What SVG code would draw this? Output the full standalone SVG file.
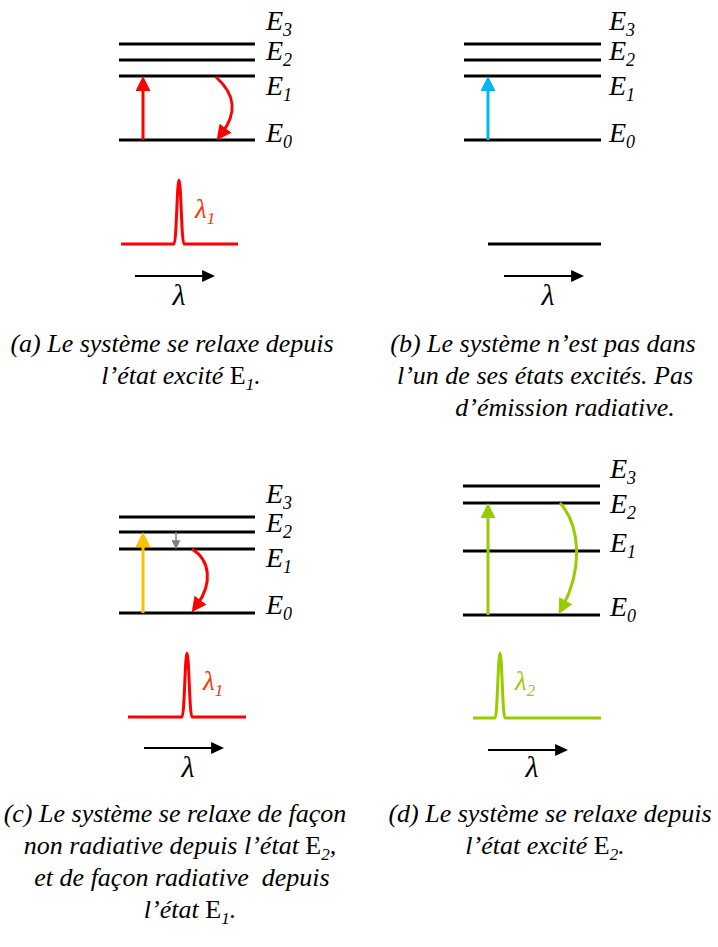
<svg xmlns="http://www.w3.org/2000/svg" width="718" height="947" viewBox="0 0 718 947">
<style>
text{font-family:"Liberation Serif","Times New Roman",serif;font-style:italic}
.lvl{stroke:#000;stroke-width:3;fill:none}
.el{font-size:28px;fill:#000}
.sub{font-size:18px}
.cap{font-size:26px;fill:#000}
.up{font-style:normal}
.lam{font-size:30px;fill:#000}
.lab{font-size:27px}
.axis{stroke:#000;stroke-width:2;fill:none}
.spec{stroke-width:3;fill:none;stroke-linejoin:round}
</style>
<defs>
<marker id="hRed" viewBox="0 0 10 10" refX="4" refY="5" markerWidth="15" markerHeight="15" markerUnits="userSpaceOnUse" orient="auto"><path d="M0,0 L10,5 L0,10 z" fill="#FF0000"/></marker>
<marker id="hCyan" viewBox="0 0 10 10" refX="4" refY="5" markerWidth="15" markerHeight="15" markerUnits="userSpaceOnUse" orient="auto"><path d="M0,0 L10,5 L0,10 z" fill="#00B8EE"/></marker>
<marker id="hGold" viewBox="0 0 10 10" refX="4" refY="5" markerWidth="15" markerHeight="15" markerUnits="userSpaceOnUse" orient="auto"><path d="M0,0 L10,5 L0,10 z" fill="#FFC000"/></marker>
<marker id="hGreen" viewBox="0 0 10 10" refX="4" refY="5" markerWidth="15" markerHeight="15" markerUnits="userSpaceOnUse" orient="auto"><path d="M0,0 L10,5 L0,10 z" fill="#99CC00"/></marker>
<marker id="hGray" viewBox="0 0 10 10" refX="3" refY="5" markerWidth="9" markerHeight="9" markerUnits="userSpaceOnUse" orient="auto"><path d="M0,0 L10,5 L0,10 z" fill="#808080"/></marker>
<marker id="hBlack" viewBox="0 0 10 10" refX="3" refY="5" markerWidth="13" markerHeight="12" markerUnits="userSpaceOnUse" orient="auto" preserveAspectRatio="none"><path d="M0,0 L10,5 L0,10 z" fill="#000"/></marker>
</defs>

<!-- Panel (a) -->
<g id="panel-a">
<line class="lvl" x1="119" y1="44" x2="255" y2="44"/>
<line class="lvl" x1="119" y1="60" x2="255" y2="60"/>
<line class="lvl" x1="119" y1="76" x2="255" y2="76"/>
<line class="lvl" x1="119" y1="140" x2="255" y2="140"/>
<text class="el" x="266" y="30">E<tspan class="sub" dy="6">3</tspan></text>
<text class="el" x="266" y="60">E<tspan class="sub" dy="6">2</tspan></text>
<text class="el" x="266" y="95">E<tspan class="sub" dy="6">1</tspan></text>
<text class="el" x="266" y="142">E<tspan class="sub" dy="6">0</tspan></text>
<path class="spec" stroke="#FF0000" d="M121,244 L174,244 C176.5,244 177,180 179,180 C181,180 181.5,244 184,244 L238,244"/>
<text class="lab" fill="#FF3300" x="195" y="218">λ<tspan font-size="17" dy="6">1</tspan></text>
<text class="lam" x="179" y="305" text-anchor="middle">λ</text>
</g>

<!-- Panel (b) -->
<g id="panel-b">
<line class="lvl" x1="464" y1="44" x2="601" y2="44"/>
<line class="lvl" x1="464" y1="60" x2="601" y2="60"/>
<line class="lvl" x1="464" y1="76" x2="601" y2="76"/>
<line class="lvl" x1="464" y1="140" x2="601" y2="140"/>
<text class="el" x="609" y="30">E<tspan class="sub" dy="6">3</tspan></text>
<text class="el" x="609" y="60">E<tspan class="sub" dy="6">2</tspan></text>
<text class="el" x="609" y="95">E<tspan class="sub" dy="6">1</tspan></text>
<text class="el" x="609" y="142">E<tspan class="sub" dy="6">0</tspan></text>
<line class="lvl" x1="488" y1="244" x2="601" y2="244"/>
<text class="lam" x="548" y="305" text-anchor="middle">λ</text>
</g>

<!-- Panel (c) -->
<g id="panel-c">
<line class="lvl" x1="119" y1="517" x2="255" y2="517"/>
<line class="lvl" x1="119" y1="532" x2="255" y2="532"/>
<line class="lvl" x1="119" y1="549" x2="255" y2="549"/>
<line class="lvl" x1="119" y1="613" x2="255" y2="613"/>
<text class="el" x="266" y="503">E<tspan class="sub" dy="6">3</tspan></text>
<text class="el" x="266" y="532">E<tspan class="sub" dy="6">2</tspan></text>
<text class="el" x="266" y="567">E<tspan class="sub" dy="6">1</tspan></text>
<text class="el" x="266" y="614">E<tspan class="sub" dy="6">0</tspan></text>
<path class="spec" stroke="#FF0000" d="M128,717 L182,717 C184.5,717 185,653 187,653 C189,653 189.5,717 192,717 L246,717"/>
<text class="lab" fill="#FF3300" x="203" y="690">λ<tspan font-size="17" dy="6">1</tspan></text>
<text class="lam" x="188" y="777" text-anchor="middle">λ</text>
</g>

<!-- Panel (d) -->
<g id="panel-d">
<line class="lvl" x1="463" y1="486" x2="600" y2="486"/>
<line class="lvl" x1="463" y1="503" x2="600" y2="503"/>
<line class="lvl" x1="463" y1="551" x2="600" y2="551"/>
<line class="lvl" x1="463" y1="615" x2="600" y2="615"/>
<text class="el" x="610" y="478">E<tspan class="sub" dy="6">3</tspan></text>
<text class="el" x="610" y="513">E<tspan class="sub" dy="6">2</tspan></text>
<text class="el" x="610" y="552">E<tspan class="sub" dy="6">1</tspan></text>
<text class="el" x="610" y="616">E<tspan class="sub" dy="6">0</tspan></text>
<path class="spec" stroke="#99CC00" d="M473,718 L495,718 C497.5,718 498,653 500,653 C502,653 502.5,718 505,718 L601,718"/>
<text class="lab" fill="#99CC00" x="515" y="690">λ<tspan font-size="17" dy="6">2</tspan></text>
<text class="lam" x="532" y="777" text-anchor="middle">λ</text>
</g>

<!-- Connectors -->
<g id="connectors">
<line x1="143" y1="140" x2="143" y2="85" stroke="#FF0000" stroke-width="3" marker-end="url(#hRed)"/>
<path d="M216,77 C236,95 237,113 222,133" stroke="#FF0000" stroke-width="3" fill="none" marker-end="url(#hRed)"/>
<line x1="135" y1="276" x2="206" y2="276" class="axis" marker-end="url(#hBlack)"/>

<line x1="488" y1="140" x2="488" y2="85" stroke="#00B8EE" stroke-width="3" marker-end="url(#hCyan)"/>
<line x1="504" y1="276" x2="575" y2="276" class="axis" marker-end="url(#hBlack)"/>

<line x1="143" y1="613" x2="143" y2="541" stroke="#FFC000" stroke-width="3" marker-end="url(#hGold)"/>
<line x1="176" y1="532" x2="176" y2="543" stroke="#808080" stroke-width="1.5" marker-end="url(#hGray)"/>
<path d="M192,549 C210,560 213,583 197,605" stroke="#FF0000" stroke-width="3" fill="none" marker-end="url(#hRed)"/>
<line x1="144" y1="748" x2="215" y2="748" class="axis" marker-end="url(#hBlack)"/>

<line x1="488" y1="615" x2="488" y2="512" stroke="#99CC00" stroke-width="3" marker-end="url(#hGreen)"/>
<path d="M560,503 C580,525 583,568 563,606" stroke="#99CC00" stroke-width="3" fill="none" marker-end="url(#hGreen)"/>
<line x1="488" y1="750" x2="559" y2="750" class="axis" marker-end="url(#hBlack)"/>
</g>

<!-- Captions -->
<g id="caption-a">
<text class="cap" x="172" y="352" text-anchor="middle">(a) Le système se relaxe depuis</text>
<text class="cap" x="181" y="384" text-anchor="middle">l’état excité <tspan class="up">E</tspan><tspan font-size="17" dy="6">1</tspan><tspan dy="-6">.</tspan></text>
</g>
<g id="caption-b">
<text class="cap" x="543" y="352" text-anchor="middle">(b) Le système n’est pas dans</text>
<text class="cap" x="545" y="384" text-anchor="middle">l’un de ses états excités. Pas</text>
<text class="cap" x="565" y="416" text-anchor="middle">d’émission radiative.</text>
</g>
<g id="caption-c">
<text class="cap" x="175" y="822" text-anchor="middle">(c) Le système se relaxe de façon</text>
<text class="cap" x="180" y="854" text-anchor="middle">non radiative depuis l’état <tspan class="up">E</tspan><tspan font-size="17" dy="6">2</tspan><tspan dy="-6">,</tspan></text>
<text class="cap" x="182" y="886" text-anchor="middle" xml:space="preserve">et de façon radiative  depuis</text>
<text class="cap" x="190" y="918" text-anchor="middle">l’état <tspan class="up">E</tspan><tspan font-size="17" dy="6">1</tspan><tspan dy="-6">.</tspan></text>
</g>
<g id="caption-d">
<text class="cap" x="550" y="822" text-anchor="middle">(d) Le système se relaxe depuis</text>
<text class="cap" x="545" y="854" text-anchor="middle">l’état excité <tspan class="up">E</tspan><tspan font-size="17" dy="6">2</tspan><tspan dy="-6">.</tspan></text>
</g>
</svg>
